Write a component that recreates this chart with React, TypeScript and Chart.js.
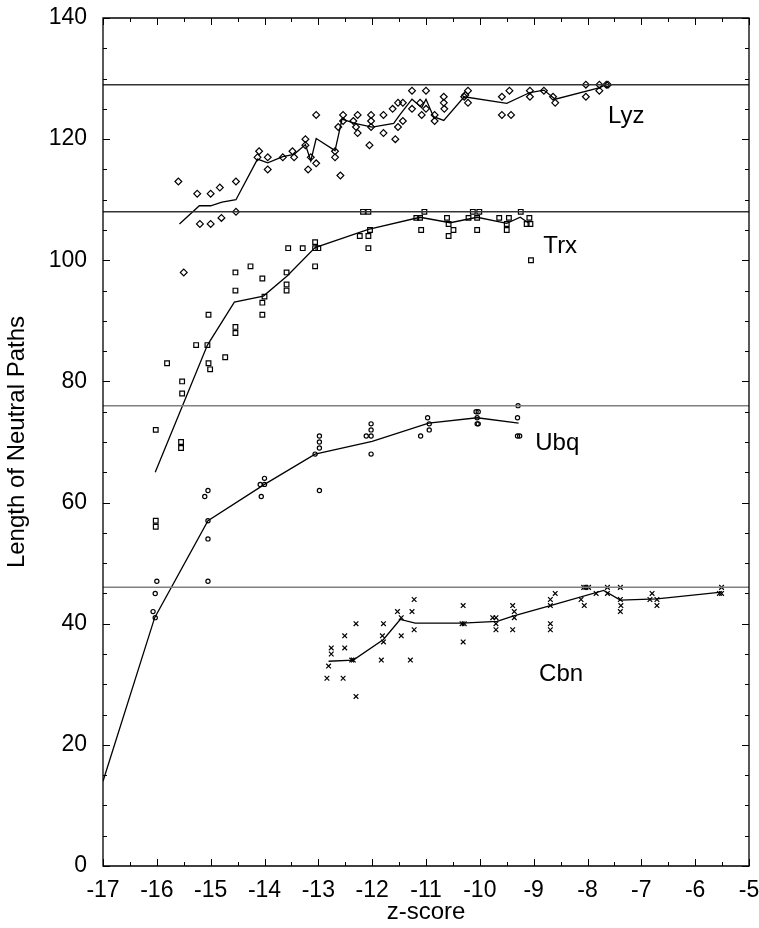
import React, { useEffect, useRef } from "react";
import { Chart, registerables } from "chart.js";

Chart.register(...registerables);

type P = [number, number];

const lyzPoints: P[] = [
  [-15.6, 113], [-15.25, 111], [-15.0, 111], [-14.83, 112], [-14.53, 113],
  [-15.2, 106], [-15.0, 106], [-14.8, 107], [-14.53, 108], [-15.5, 98],
  [-14.1, 118], [-14.13, 117], [-13.94, 117], [-13.94, 115], [-13.66, 117],
  [-13.48, 118], [-13.45, 117], [-13.24, 120], [-13.24, 119], [-13.19, 115],
  [-13.14, 117], [-13.04, 116], [-13.04, 124], [-12.69, 118], [-12.69, 117],
  [-12.59, 114], [-12.63, 122], [-12.54, 124], [-12.54, 123], [-12.35, 123],
  [-12.3, 122], [-12.27, 124], [-12.27, 121], [-12.05, 119], [-12.02, 124],
  [-12.02, 123], [-12.02, 122], [-11.79, 124], [-11.79, 121], [-11.62, 125],
  [-11.57, 120], [-11.52, 122], [-11.52, 126], [-11.43, 126], [-11.43, 123],
  [-11.26, 128], [-11.26, 125], [-11.11, 126], [-11.08, 124], [-11.0, 128],
  [-11.0, 125], [-10.84, 124], [-10.84, 123], [-10.67, 127], [-10.67, 126],
  [-10.66, 125], [-10.29, 127], [-10.27, 127.3], [-10.22, 128], [-10.22, 126],
  [-9.59, 127], [-9.45, 128], [-9.59, 124], [-9.42, 124], [-9.07, 128],
  [-9.07, 127], [-8.81, 128], [-8.64, 127], [-8.6, 126], [-8.03, 129],
  [-8.03, 127], [-7.78, 129], [-7.78, 128], [-7.65, 129], [-7.62, 129],
];

const lyzLine: P[] = [
  [-15.58, 106], [-15.21, 109], [-15.0, 109], [-14.79, 109.6], [-14.53, 110],
  [-14.13, 116.7], [-13.94, 116.1], [-13.66, 117.1], [-13.45, 117.5], [-13.24, 119.1],
  [-13.14, 116.4], [-13.04, 120.1], [-12.69, 118.1], [-12.56, 123.3], [-12.32, 122.6],
  [-12.0, 122.0], [-11.6, 122.6], [-11.48, 124.1], [-11.26, 126.6], [-11.08, 125.2],
  [-11.0, 126.6], [-10.86, 123.7], [-10.67, 123.1], [-10.29, 127.0], [-9.5, 125.9],
  [-9.07, 127.7], [-8.81, 128.1], [-8.6, 126.6], [-7.77, 128.5], [-7.64, 129.1],
];

const trxPoints: P[] = [
  [-15.81, 83], [-15.53, 80], [-15.27, 86], [-15.06, 86], [-15.04, 91],
  [-15.04, 83], [-15.01, 82], [-14.73, 84], [-14.54, 98], [-14.54, 95],
  [-14.54, 89], [-14.54, 88], [-14.26, 99], [-14.04, 97], [-14.04, 93],
  [-14.0, 94], [-14.04, 91], [-13.59, 98], [-13.59, 96], [-13.59, 95],
  [-13.56, 102], [-13.29, 102], [-13.06, 103], [-13.06, 102], [-13.06, 99],
  [-13.0, 102], [-12.23, 104], [-12.07, 104], [-12.04, 105], [-12.07, 102],
  [-12.17, 108], [-12.07, 108], [-11.18, 107], [-11.11, 107], [-11.03, 108],
  [-11.09, 105], [-10.61, 107], [-10.58, 106], [-10.49, 105], [-10.58, 104],
  [-10.21, 107], [-10.13, 108], [-10.01, 108], [-10.05, 107], [-10.05, 105],
  [-9.64, 107], [-9.46, 107], [-9.5, 106], [-9.5, 105], [-9.24, 108],
  [-9.08, 107], [-9.13, 106], [-9.06, 106], [-9.05, 100], [-15.53, 78],
  [-16.02, 72], [-15.55, 70], [-15.55, 69], [-16.02, 57], [-16.02, 56],
];

const trxLine: P[] = [
  [-16.03, 65], [-15.06, 86], [-14.56, 93.1], [-14.02, 94.1], [-13.58, 97.4],
  [-13.06, 102.1], [-12.07, 105.1], [-11.11, 107.1], [-10.55, 106.2], [-10.05, 107.1],
  [-9.5, 106.1], [-9.25, 107.1], [-9.1, 106.2],
];

const ubqPoints: P[] = [
  [-16.0, 47], [-16.03, 45], [-16.07, 42], [-16.03, 41], [-15.11, 61],
  [-15.05, 62], [-15.05, 57], [-15.05, 54], [-15.05, 47], [-14.08, 63],
  [-14.0, 64], [-14.0, 63], [-14.06, 61], [-13.06, 68], [-12.98, 71],
  [-12.98, 70], [-12.98, 69], [-12.98, 62], [-12.11, 71], [-12.02, 71],
  [-12.02, 72], [-12.02, 73], [-12.02, 68], [-11.1, 71], [-10.97, 74],
  [-10.94, 73], [-10.94, 72], [-10.07, 75], [-10.03, 75], [-10.05, 74],
  [-10.05, 73], [-10.03, 73], [-9.29, 76], [-9.3, 74], [-9.3, 71],
  [-9.26, 71],
];

const ubqLine: P[] = [
  [-17, 14], [-16.04, 41], [-15.05, 57], [-14.0, 63], [-13.06, 68],
  [-12.0, 70.1], [-10.95, 73.1], [-10.05, 74], [-9.28, 73.1],
];

const cbnPoints: P[] = [
  [-12.81, 33], [-12.84, 31], [-12.76, 35], [-12.76, 36], [-12.54, 31],
  [-12.51, 36], [-12.51, 38], [-12.35, 34], [-12.38, 34], [-12.3, 40],
  [-12.3, 28], [-11.83, 34], [-11.79, 40], [-11.81, 38], [-11.79, 37],
  [-11.53, 42], [-11.46, 41], [-11.46, 38], [-11.26, 42], [-11.22, 44],
  [-11.22, 39], [-11.29, 34], [-10.31, 43], [-10.33, 40], [-10.29, 40],
  [-10.31, 37], [-9.76, 41], [-9.7, 41], [-9.7, 40], [-9.7, 39],
  [-9.39, 43], [-9.36, 42], [-9.36, 41], [-9.39, 39], [-8.69, 44],
  [-8.69, 43], [-8.69, 40], [-8.69, 39], [-8.6, 45], [-8.12, 44],
  [-8.06, 43], [-8.07, 46], [-8.03, 46], [-7.98, 46], [-7.84, 45],
  [-7.63, 46], [-7.63, 45], [-7.39, 46], [-7.39, 44], [-7.38, 43],
  [-7.39, 42], [-6.8, 45], [-6.84, 44], [-6.71, 44], [-6.71, 43],
  [-5.51, 46], [-5.51, 45], [-5.55, 45],
];

const cbnLine: P[] = [
  [-12.81, 33.8], [-12.35, 34], [-11.79, 37.4], [-11.48, 40.7], [-11.2, 40.1],
  [-10.33, 40.1], [-9.68, 40.4], [-9.37, 41.3], [-8.69, 43], [-7.7, 45.5],
  [-7.39, 43.9], [-6.71, 44.1], [-5.51, 45.2],
];

const nativeLengths = [129, 108, 76, 46];
const nativeColors = ["#333333", "#333333", "#808080", "#808080"];

const labelNames = ["Lyz", "Trx", "Ubq", "Cbn"];
const labelX = [-7.62, -8.82, -8.97, -8.9];
const labelY = [123.8, 102.3, 69.8, 31.6];

const xMin = -17;
const xMax = -5;
const yMin = 0;
const yMax = 140;

const FONT = "'Liberation Sans', Arial, Helvetica, sans-serif";

const toXY = (arr: P[]) => arr.map(([x, y]) => ({ x, y }));

const framePlugin = {
  id: "frameTicks",
  afterDatasetsDraw(chart: any) {
    const { ctx, chartArea } = chart;
    const xs = chart.scales.x;
    const ys = chart.scales.y;
    const { left, right, top, bottom } = chartArea;
    ctx.save();
    ctx.strokeStyle = "#000";
    ctx.lineWidth = 1.3;
    ctx.beginPath();
    ctx.rect(left, top, right - left, bottom - top);
    ctx.stroke();
    ctx.lineWidth = 1;
    ctx.beginPath();
    for (let v = xMin; v <= xMax + 1e-9; v += 0.5) {
      const px = Math.round(xs.getPixelForValue(v)) + 0.5;
      const len = Math.abs(v - Math.round(v)) < 1e-6 ? 7 : 4;
      ctx.moveTo(px, bottom);
      ctx.lineTo(px, bottom - len);
      ctx.moveTo(px, top);
      ctx.lineTo(px, top + len);
    }
    for (let v = yMin; v <= yMax + 1e-9; v += 5) {
      const py = Math.round(ys.getPixelForValue(v)) + 0.5;
      const len = v % 20 === 0 ? 7 : 4;
      ctx.moveTo(left, py);
      ctx.lineTo(left + len, py);
      ctx.moveTo(right, py);
      ctx.lineTo(right - len, py);
    }
    ctx.stroke();

    ctx.fillStyle = "#000";
    ctx.font = `24px ${FONT}`;
    ctx.textAlign = "left";
    ctx.textBaseline = "middle";
    labelNames.forEach((name, i) => {
      ctx.fillText(name, xs.getPixelForValue(labelX[i]), ys.getPixelForValue(labelY[i]));
    });
    ctx.restore();
  },
};

export default function App() {
  const canvasRef = useRef<HTMLCanvasElement | null>(null);

  useEffect(() => {
    if (!canvasRef.current) return;
    const refDatasets = nativeLengths.map((v, i) => ({
      type: "line" as const,
      data: [
        { x: xMin, y: v },
        { x: xMax, y: v },
      ],
      borderColor: nativeColors[i],
      borderWidth: 1.5,
      pointRadius: 0,
      fill: false,
    }));

    const scatter = (pts: P[], style: string, r: number) => ({
      type: "line" as const,
      data: toXY(pts),
      showLine: false,
      pointStyle: style,
      pointRadius: r,
      pointBorderColor: "#000",
      pointBackgroundColor: "rgba(0,0,0,0)",
      pointBorderWidth: 1.2,
      borderColor: "#000",
    });

    const line = (pts: P[]) => ({
      type: "line" as const,
      data: toXY(pts),
      borderColor: "#000",
      borderWidth: 1.3,
      pointRadius: 0,
      fill: false,
      tension: 0,
    });

    const zeroPad = (scale: any) => {
      scale.paddingTop = 0;
      scale.paddingBottom = 0;
      scale.paddingLeft = 0;
      scale.paddingRight = 0;
    };

    const chart = new Chart(canvasRef.current, {
      type: "line",
      data: {
        datasets: [
          ...refDatasets,
          line(lyzLine),
          line(trxLine),
          line(ubqLine),
          line(cbnLine),
          scatter(lyzPoints, "rectRot", 3.4),
          scatter(trxPoints, "rect", 3.3),
          scatter(ubqPoints, "circle", 2.1),
          scatter(cbnPoints, "crossRot", 3.3),
        ] as any,
      },
      options: {
        animation: false,
        responsive: false,
        layout: { padding: { top: 18, right: 10, left: 0, bottom: 0 } },
        plugins: {
          legend: { display: false },
          tooltip: { enabled: false },
        },
        scales: {
          x: {
            type: "linear",
            min: xMin,
            max: xMax,
            grid: { display: false, drawTicks: false },
            border: { display: false },
            ticks: {
              stepSize: 1,
              autoSkip: false,
              maxRotation: 0,
              padding: 11,
              color: "#000",
              font: { family: FONT, size: 23 },
            },
            title: {
              display: true,
              text: "z-score",
              color: "#000",
              font: { family: FONT, size: 24 },
              padding: { top: 0, bottom: 1 },
            },
            afterFit(scale: any) {
              scale.height = 62;
              zeroPad(scale);
            },
          },
          y: {
            type: "linear",
            min: yMin,
            max: yMax,
            grid: { display: false, drawTicks: false },
            border: { display: false },
            ticks: {
              stepSize: 20,
              padding: 16,
              color: "#000",
              font: { family: FONT, size: 23 },
            },
            title: {
              display: true,
              text: "Length of Neutral Paths",
              color: "#000",
              font: { family: FONT, size: 24 },
              padding: { top: 3, bottom: 0 },
            },
            afterFit(scale: any) {
              scale.width = 103;
              zeroPad(scale);
            },
          },
        },
      },
      plugins: [framePlugin],
    });
    return () => chart.destroy();
  }, []);

  return (
    <div style={{ position: "absolute", left: 0, top: 0, width: 759, height: 928, background: "#fff" }}>
      <canvas ref={canvasRef} width={759} height={928} style={{ display: "block" }} />
    </div>
  );
}
